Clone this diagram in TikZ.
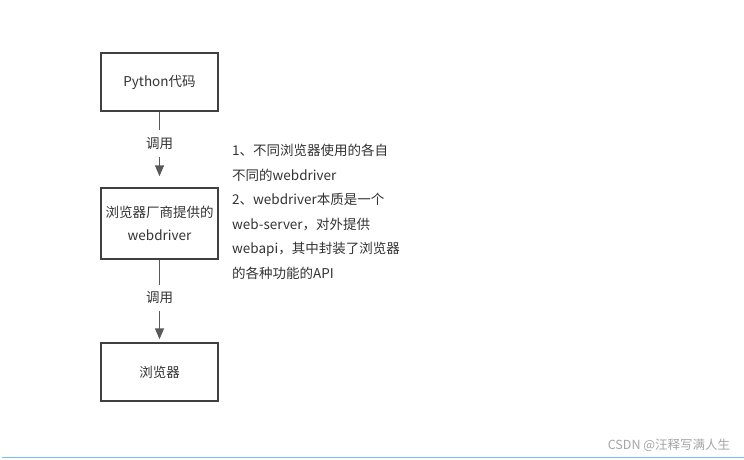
\documentclass[tikz,border=0pt]{standalone}
\usepackage{fontspec}
\setmainfont{Noto Sans CJK SC}
\usetikzlibrary{arrows.meta}
\definecolor{boxline}{HTML}{404040}
\definecolor{arrline}{HTML}{595959}
\definecolor{txt}{HTML}{333333}
\definecolor{mark}{HTML}{A6A6A6}
\definecolor{edge}{HTML}{7DBCF5}
\tikzset{%
  box/.style={draw=boxline,line width=1.5pt,minimum width=117pt,text=txt,align=center,font=\fontsize{13.5}{23}\selectfont},
  call/.style={draw=arrline,line width=1.5pt,-{Triangle[width=9pt,length=11pt]}},
  calltext/.style={fill=white,text=txt,inner xsep=2pt,inner ysep=7pt,font=\fontsize{13.5}{16}\selectfont},
  note/.style={text=txt,align=left,inner sep=0pt,font=\fontsize{13.5}{24.5}\selectfont}
}
\begin{document}
\begin{tikzpicture}[x=1pt,y=-1pt]
    \useasboundingbox[fill=white] (0,0) rectangle (744,459);
    \path
      (159.5,82)    node (py)[box,minimum height=58pt]{Python代码}
      (159.5,223.5) node (wd)[box,minimum height=71pt]{浏览器厂商提供的\\webdriver}
      (159.5,372)   node (br)[box,minimum height=58pt]{浏览器};
    \draw[call,shorten >=11pt] (py.south) -- node[calltext,pos=0.42]{调用} (wd.north);
    \draw[call,shorten >=3pt] (wd.south) -- node[calltext,pos=0.46]{调用} (br.north);
    \node (info)[note,anchor=north west] at (232,144)
      {1、不同浏览器使用的各自\\不同的webdriver\\2、webdriver本质是一个\\web-server，对外提供\\webapi，其中封装了浏览器\\的各种功能的API};
    \node (csdn)[text=mark,font=\fontsize{12.5}{15}\selectfont] at (669,445) {CSDN @汪释写满人生};
    \coordinate (l) at (2,457.5);
    \coordinate (r) at (744,457.5);
    \draw[edge,line width=1.5pt] (l) -- (r);
  \end{tikzpicture}
\end{document}
